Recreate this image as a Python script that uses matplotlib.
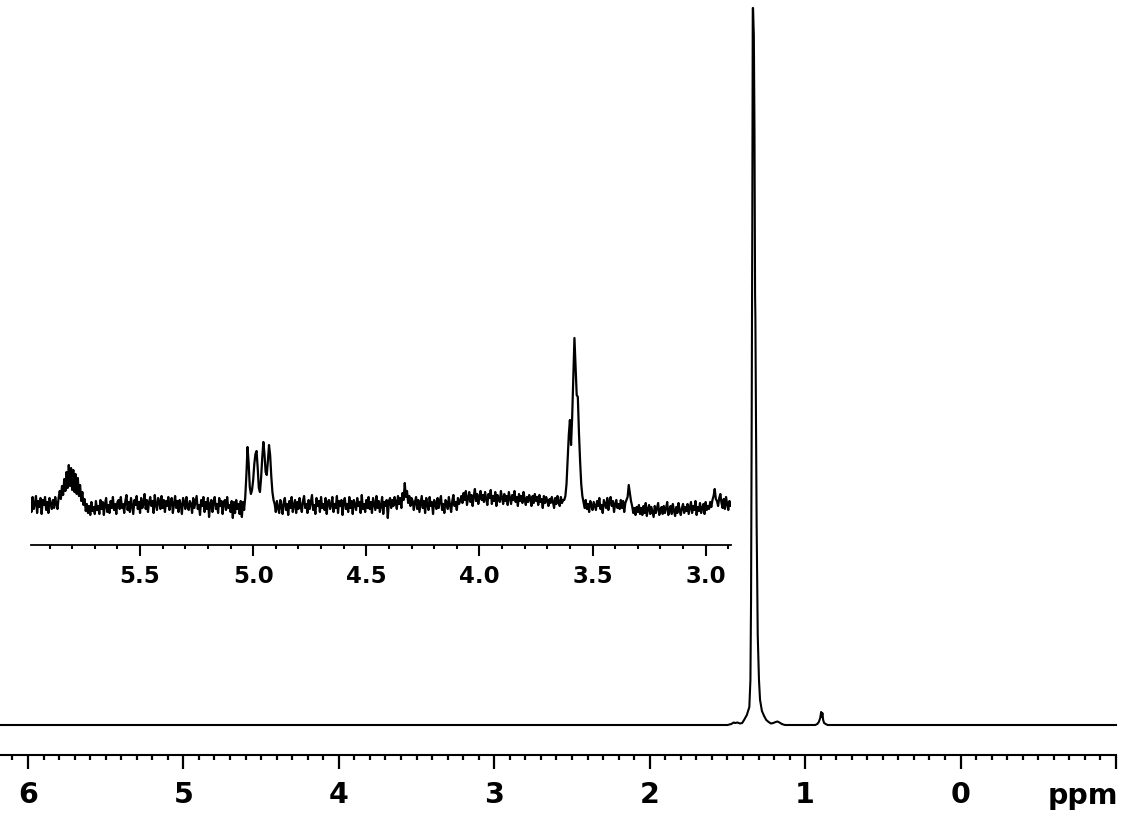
import numpy as np
import matplotlib
matplotlib.use('Agg')
import matplotlib.pyplot as plt
from matplotlib.ticker import MultipleLocator, FixedLocator, FixedFormatter

# full spectrum (ppm, intensity in arbitrary units)
main_ppm = [6.18, 1.50, 1.475, 1.46, 1.45, 1.435, 1.42, 1.405, 1.393, 1.375,
            1.359, 1.352, 1.348, 1.344, 1.340, 1.337, 1.335, 1.332, 1.330, 1.326,
            1.322, 1.320, 1.316, 1.312, 1.305, 1.297, 1.290, 1.278, 1.264, 1.25,
            1.235, 1.22, 1.205, 1.19, 1.178, 1.165, 1.15, 1.13, 0.935, 0.922,
            0.912, 0.903, 0.897, 0.893, 0.889, 0.884, 0.878, 0.868, 0.855, -1.0]
main_int = [0, 0, 1, 2.5, 2, 2.5, 1.5, 2, 5, 10,
            18, 45, 125, 300, 500, 717, 717, 700, 690, 600,
            430, 407, 300, 200, 90, 45, 25, 14, 9, 5,
            3, 1.5, 2, 3, 3.5, 2.5, 1, 0, 0, 1,
            3, 7, 13, 8, 12, 5, 2, 1, 0, 0]

# expanded region 5.985 -> 2.885 ppm, one value every 0.005 ppm
inset_start = 5.985
inset_end = 2.885
inset_int = [
    3, -7, 8, -4, 1, 9, -8, 4, -2, 7, -9, 5, 0, 8, -5, 3, -8, 7, 1, -4,
    5, -3, 8, 1, -4, 7, 14, 6, 19, 10, 26, 14, 33, 17, 40, 19, 37, 15, 35, 13,
    31, 11, 27, 9, 20, 4, 13, 0, 6, -6, 1, -8, -1, -10, 3, -6, -2, -9, 4, -5,
    -1, -9, 5, -4, 3, -10, 1, 7, -7, 0, -8, 4, -3, 8, -5, 1, -9, 3, 5, -4,
    8, -3, 1, -8, 4, 10, -5, 3, -7, 7, -1, -9, 5, 0, 9, -4, 3, -8, 7, -3,
    1, 11, -4, 5, -7, 3, 8, -1, 4, -8, 10, 0, -5, 7, 3, -4, 9, -3, 5, -7,
    4, -1, 8, -5, 3, 7, -8, 1, 9, -3, 4, -7, 5, 0, -9, 7, 3, -4, 8, -1,
    -5, 4, 1, -8, 7, -3, 3, 9, -4, 0, -10, 5, -1, 8, -7, 3, -4, 7, -12, 1,
    5, -7, 3, 8, -4, 1, -8, 7, -1, 4, -9, 3, 5, -5, 8, -3, 0, -7, 4, -13,
    3, -8, 5, -4, 1, -9, 4, -12, 3, -5, 8, 30, 58, 42, 18, 11, 15, 25, 41, 51,
    54, 37, 17, 13, 27, 47, 63, 51, 33, 30, 44, 60, 50, 29, 13, 5, 1, -7, 4, -3,
    -8, 5, -1, -9, 3, 7, -5, 1, -10, 4, -3, 8, -7, 0, 5, -8, 3, -4, 7, -1,
    -7, 4, 9, -3, 1, -8, 5, -4, 3, 10, -5, 0, -9, 7, -1, 4, -7, 8, -3, 1,
    -5, 7, -9, 3, 5, -4, 0, 8, -7, 1, -3, 9, -8, 4, -1, 5, -10, 3, 7, -4,
    1, -7, 8, -3, 4, -9, 5, 0, -5, 7, -1, 3, -8, 10, -4, 1, -7, 5, -3, 8,
    -4, 3, -8, 7, 1, -5, 9, -3, 4, -7, 0, 8, -9, 3, -1, 5, -13, 4, 7, -3,
    5, -1, 8, 3, -4, 9, 1, 7, -3, 12, 5, 22, 8, 14, 2, 9, -1, 7, 4, -5,
    3, 8, -4, 5, -7, 1, 9, -3, 4, -8, 7, 0, -5, 8, -1, 3, -9, 5, 1, -4,
    7, -3, 4, 9, -5, 1, -8, 5, 3, -4, 8, 0, -7, 4, 10, -1, 3, -5, 7, 1,
    4, 9, 2, 12, 5, 14, 0, 7, 13, 3, 10, -1, 9, 16, 4, 11, 1, 8, 14, 5,
    10, 3, 13, 6, 0, 11, 7, 15, 1, 9, 4, 13, -1, 10, 6, 3, 14, 7, 1, 11,
    4, 9, 0, 13, 7, 1, 10, 5, 14, 3, 8, -1, 11, 4, 9, 2, 13, 6, 0, 8,
    3, 10, 6, -1, 9, 2, 11, 4, 8, 0, 10, 3, 6, -3, 9, 2, 8, 4, -1, 6,
    2, 8, 3, -3, 7, 1, 9, 3, -1, 8, 2, 5, 5, 9, 21, 45, 70, 85, 60, 88,
    128, 167, 138, 110, 108, 72, 44, 21, 9, 3, -3, 5, -4, 1, -7, 4, 0, -5, 3, -1,
    -5, 4, -1, 7, -4, 0, -8, 5, 1, -3, 7, -5, 3, 8, -1, 4, -7, 1, 5, -3,
    1, -4, 5, -3, 4, -7, 2, 5, 8, 20, 12, 4, -1, -8, -3, -10, -2, -7, 0, -9,
    -3, -10, -1, -8, 2, -11, -4, 0, -9, -2, -7, -12, -1, -8, -3, 2, -10, -5, -2, -9,
    -1, -8, -3, 3, -10, -5, -1, -9, 1, -6, -11, -2, -8, 2, -5, -10, -3, 1, -8, -2,
    -6, 1, -9, -3, 3, -8, -1, -5, 4, -10, -2, -6, 2, -8, -3, 1, -9, 3, -5, -1,
    -4, 3, -2, 5, 9, 16, 6, 4, -1, 7, 11, 2, -3, 6, -4, 8, 1, -5, 4, -1,
    2]
inset_ppm = np.linspace(inset_start, inset_end, len(inset_int))

main_ticks = [6, 5, 4, 3, 2, 1, 0, -1]
main_labels = ['6', '5', '4', '3', '2', '1', '0', '']
inset_ticks = [5.5, 5.0, 4.5, 4.0, 3.5, 3.0]
inset_labels = ['5.5', '5.0', '4.5', '4.0', '3.5', '3.0']

plt.rcParams['font.family'] = ['DejaVu Sans']

fig = plt.figure(figsize=(11.25, 8.17), dpi=100)

ax = fig.add_axes([0.0, 62 / 817, 0.992, 755 / 817])
ax.plot(main_ppm, main_int, color='black', lw=1.5, clip_on=False)
ax.set_xlim(6.18, -1.0)
ax.set_ylim(-30, 725)
for s in ['left', 'top', 'right']:
    ax.spines[s].set_visible(False)
ax.spines['bottom'].set_linewidth(1.5)
ax.set_yticks([])
ax.xaxis.set_major_locator(FixedLocator(main_ticks))
ax.xaxis.set_major_formatter(FixedFormatter(main_labels))
ax.xaxis.set_minor_locator(MultipleLocator(0.1))
ax.tick_params(axis='x', which='major', length=10, width=1.6, pad=9,
               labelsize=20.5)
ax.tick_params(axis='x', which='minor', length=3.6, width=1.6)
for t in ax.get_xticklabels():
    t.set_fontweight('bold')
fig.text(1118 / 1125, 13 / 817, 'ppm', ha='right', va='baseline',
         fontsize=20.5, fontweight='bold')

ins = fig.add_axes([31 / 1125, 272 / 817, 700 / 1125, 215 / 817])
ins.plot(inset_ppm, inset_int, color='black', lw=1.6)
ins.set_xlim(5.982, 2.888)
ins.set_ylim(-40, 175)
for s in ['left', 'top', 'right']:
    ins.spines[s].set_visible(False)
ins.spines['bottom'].set_linewidth(1.3)
ins.set_yticks([])
ins.xaxis.set_major_locator(FixedLocator(inset_ticks))
ins.xaxis.set_major_formatter(FixedFormatter(inset_labels))
ins.xaxis.set_minor_locator(MultipleLocator(0.1))
ins.tick_params(axis='x', which='major', length=8, width=1.5, pad=6.5,
                labelsize=16.5)
ins.tick_params(axis='x', which='minor', length=3, width=1.5)
for t in ins.get_xticklabels():
    t.set_fontweight('bold')
ins.patch.set_alpha(0)

fig.savefig('out.png', dpi=100)
